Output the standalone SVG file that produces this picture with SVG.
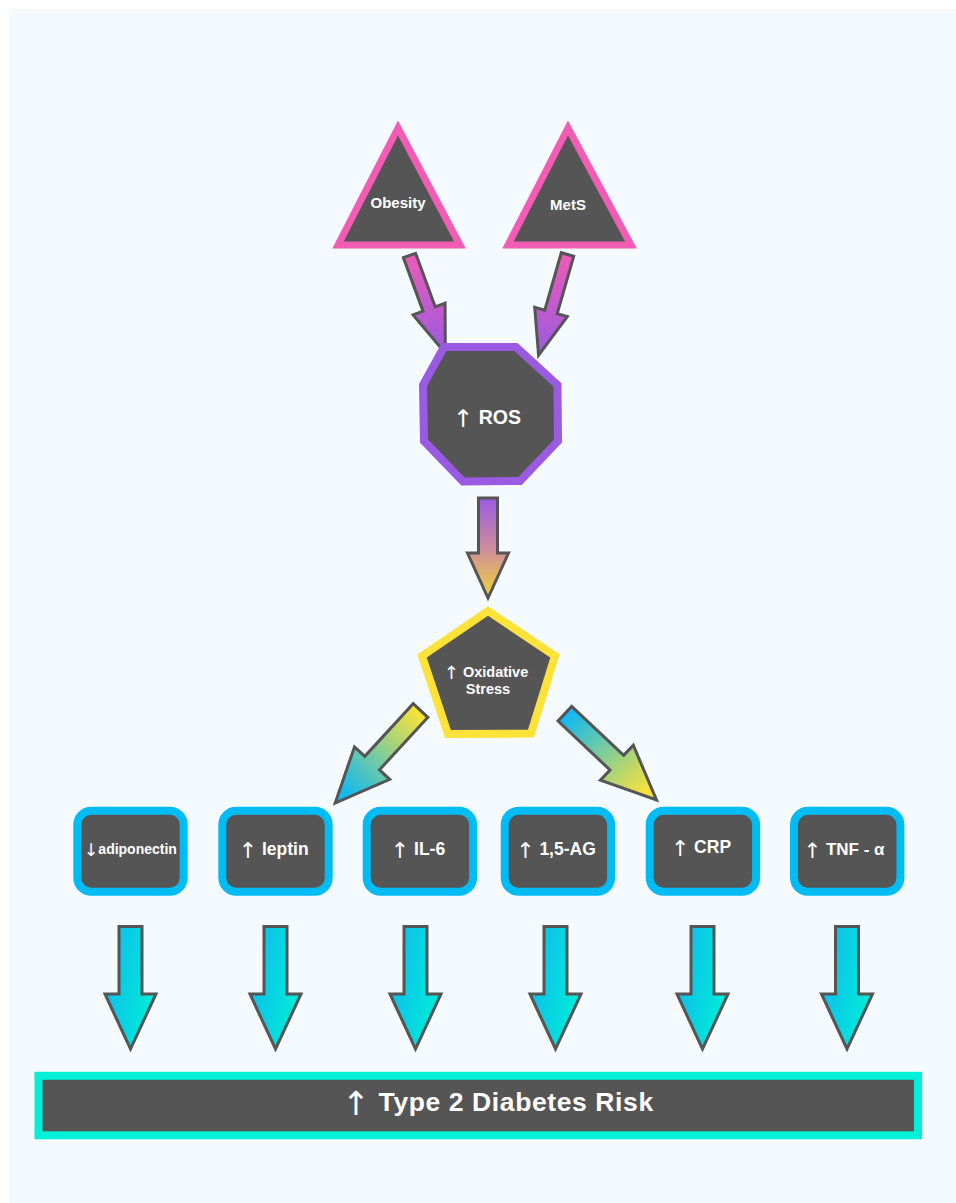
<svg xmlns="http://www.w3.org/2000/svg" width="956" height="1203" viewBox="0 0 956 1203">
  <defs>
    <linearGradient id="gPinkPurple" x1="0" y1="0" x2="0" y2="1">
      <stop offset="0" stop-color="#ee5bb6"/>
      <stop offset="1" stop-color="#9a5ae2"/>
    </linearGradient>
    <linearGradient id="gPurpleYellow" x1="0" y1="0" x2="0" y2="1">
      <stop offset="0" stop-color="#9b5ae2"/>
      <stop offset="0.5" stop-color="#cc8c9c"/>
      <stop offset="1" stop-color="#f2d63a"/>
    </linearGradient>
    <linearGradient id="gDiagLeft" x1="1" y1="0" x2="0" y2="1">
      <stop offset="0.1" stop-color="#f8e23a"/>
      <stop offset="0.9" stop-color="#12b9f0"/>
    </linearGradient>
    <linearGradient id="gDiagRight" x1="0" y1="0" x2="1" y2="1">
      <stop offset="0.1" stop-color="#12b9f0"/>
      <stop offset="0.9" stop-color="#f8e23a"/>
    </linearGradient>
    <linearGradient id="gCyan" x1="0" y1="0" x2="1" y2="0.4">
      <stop offset="0" stop-color="#12b6f0"/>
      <stop offset="1" stop-color="#00ead8"/>
    </linearGradient>
  </defs>
  <style>
    .tri { fill: #555555; stroke: #f25cb5; stroke-width: 7; stroke-linejoin: miter; }
    .oct { fill: #555555; stroke: #9a5ae2; stroke-width: 8; stroke-linejoin: miter; }
    .pent { fill: #555555; stroke: #fde23a; stroke-width: 8; stroke-linejoin: miter; }
    .box { fill: #555555; stroke: #00bcf5; stroke-width: 8; }
    .bar { fill: #555555; stroke: #00f0d8; stroke-width: 8; }
    .arr { stroke: #555555; stroke-width: 3; stroke-linejoin: miter; }
    .lbl { font-family: "Liberation Sans", Arial, "DejaVu Sans", sans-serif; font-weight: bold; fill: #ffffff; text-anchor: middle; }
    .up { font-family: "DejaVu Sans", sans-serif; font-weight: normal; font-size: 125%; baseline-shift: -0.12em; }
  </style>

  <rect x="0" y="0" width="956" height="1203" fill="#ffffff"/>
  <rect x="9" y="9" width="947" height="1194" fill="#f4fafd"/>

  <g id="connectors">
    <path class="arr" fill="url(#gPinkPurple)" d="M403.4,257.7 L423.0,311.2 L413.1,314.9 L445.3,353.2 L445.1,303.2 L435.2,306.8 L415.6,253.3 Z"/>
    <path class="arr" fill="url(#gPinkPurple)" d="M573.7,256.3 L557.2,313.7 L567.3,316.6 L538.6,355.1 L534.7,307.2 L544.8,310.1 L561.3,252.7 Z"/>
    <path class="arr" fill="url(#gPurpleYellow)" d="M478.5,498 L478.5,553 L467.5,553 L488,598 L508.5,553 L497.5,553 L497.5,498 Z"/>
    <path class="arr" fill="url(#gDiagLeft)" d="M427.9,717.3 L379.5,769.8 L389.7,779.3 L335.2,803.1 L354.5,746.8 L364.8,756.3 L413.2,703.7 Z"/>
    <path class="arr" fill="url(#gDiagRight)" d="M558.0,721.0 L610.0,770.0 L600.4,780.2 L656.5,800.0 L633.3,745.2 L623.7,755.4 L571.7,706.4 Z"/>
    <path class="arr" fill="url(#gCyan)" d="M119,926.5 L119,994 L105,994 L130.5,1049 L156,994 L142,994 L142,926.5 Z"/>
    <path class="arr" fill="url(#gCyan)" d="M264,926.5 L264,994 L250,994 L275.5,1049 L301,994 L287,994 L287,926.5 Z"/>
    <path class="arr" fill="url(#gCyan)" d="M404,926.5 L404,994 L390,994 L415.5,1049 L441,994 L427,994 L427,926.5 Z"/>
    <path class="arr" fill="url(#gCyan)" d="M544,926.5 L544,994 L530,994 L555.5,1049 L581,994 L567,994 L567,926.5 Z"/>
    <path class="arr" fill="url(#gCyan)" d="M691,926.5 L691,994 L677,994 L702.5,1049 L728,994 L714,994 L714,926.5 Z"/>
    <path class="arr" fill="url(#gCyan)" d="M835.5,926.5 L835.5,994 L821.5,994 L847,1049 L872.5,994 L858.5,994 L858.5,926.5 Z"/>
  </g>

  <g id="node-obesity">
    <polygon class="tri" points="398,128 338,245 460,245"/>
    <text class="lbl" x="398" y="208" font-size="15">Obesity</text>
  </g>
  <g id="node-mets">
    <polygon class="tri" points="568,128 508,245 631,245"/>
    <text class="lbl" x="568" y="210" font-size="15">MetS</text>
  </g>
  <g id="node-ros">
    <polygon class="oct" points="444,347 516,347 557.5,385 558,441 520,481 463,481.5 424,441 423,385"/>
    <text class="lbl" x="487" y="424" font-size="19.5"><tspan class="up">↑</tspan> ROS</text>
  </g>
  <g id="node-oxidative-stress">
    <polygon class="pent" points="488,611 555,656 531,733.5 448,734 422,656"/>
    <text class="lbl" x="486" y="677" font-size="14.5"><tspan class="up">↑</tspan> Oxidative</text>
    <text class="lbl" x="488" y="694" font-size="14.5">Stress</text>
  </g>

  <g id="node-adiponectin">
    <rect class="box" x="77.3" y="810.7" width="106.4" height="81" rx="14"/>
    <text class="lbl" x="130.3" y="854" font-size="14"><tspan class="up">↓</tspan>adiponectin</text>
  </g>
  <g id="node-leptin">
    <rect class="box" x="222.3" y="810.7" width="106.4" height="81" rx="14"/>
    <text class="lbl" x="273.7" y="855" font-size="17.5"><tspan class="up">↑</tspan> leptin</text>
  </g>
  <g id="node-il6">
    <rect class="box" x="366.7" y="810.7" width="106.4" height="81" rx="14"/>
    <text class="lbl" x="418" y="855" font-size="17.5"><tspan class="up">↑</tspan> IL-6</text>
  </g>
  <g id="node-15ag">
    <rect class="box" x="504.7" y="810.7" width="106.4" height="81" rx="14"/>
    <text class="lbl" x="556" y="855" font-size="17.5"><tspan class="up">↑</tspan> 1,5-AG</text>
  </g>
  <g id="node-crp">
    <rect class="box" x="649.7" y="810.7" width="106.4" height="81" rx="14"/>
    <text class="lbl" x="701" y="853" font-size="17.5"><tspan class="up">↑</tspan> CRP</text>
  </g>
  <g id="node-tnf">
    <rect class="box" x="794" y="810.7" width="106.4" height="81" rx="14"/>
    <text class="lbl" x="844" y="854.5" font-size="17"><tspan class="up">↑</tspan> TNF - α</text>
  </g>

  <g id="node-t2d-risk">
    <rect class="bar" x="38.5" y="1075.8" width="879.5" height="59.5"/>
    <text class="lbl" x="498" y="1111" font-size="26.5" letter-spacing="0.6"><tspan class="up">↑</tspan> Type 2 Diabetes Risk</text>
  </g>
</svg>
